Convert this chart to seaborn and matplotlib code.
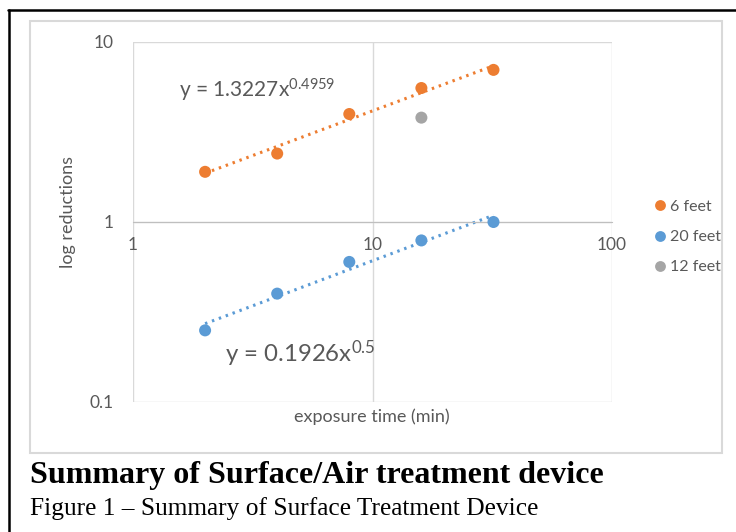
import numpy as np
import pandas as pd
import matplotlib
matplotlib.use("Agg")
import matplotlib.pyplot as plt
import seaborn as sns
from matplotlib.lines import Line2D
from matplotlib.patches import Rectangle

# Data
times = [2, 4, 8, 16, 32]
feet6 = [1.90, 2.40, 3.98, 5.55, 7.0]
feet20 = [0.25, 0.40, 0.60, 0.79, 1.0]
feet12_time = [16]
feet12 = [3.8]

# trendline coefficients (from the printed equations)
fit6 = (1.3227, 0.4959)
fit20 = (0.1926, 0.5)

df = pd.DataFrame({
    "time": times + times + feet12_time,
    "logred": feet6 + feet20 + feet12,
    "series": ["6 feet"] * 5 + ["20 feet"] * 5 + ["12 feet"],
})

colors = {"6 feet": "#ED7D31", "20 feet": "#5B9BD5", "12 feet": "#A5A5A5"}
txt = "#595959"

sns.set_style("white")
plt.rcParams["font.family"] = ["Lato", "DejaVu Sans"]
plt.rcParams["mathtext.fontset"] = "custom"
plt.rcParams["mathtext.rm"] = "Lato"
plt.rcParams["mathtext.it"] = "Lato"

fig = plt.figure(figsize=(7.36, 5.32), dpi=100)
W, H = 736, 532
ax = fig.add_axes([133 / W, 1 - 402 / H, (612 - 133) / W, (402 - 42) / H])

# trendlines
for (a, b), col in [(fit6, colors["6 feet"]), (fit20, colors["20 feet"])]:
    xs = np.geomspace(times[0], times[-1], 50)
    ax.plot(xs, a * xs ** b, color=col, lw=2.2, ls=(0, (0.8, 1.6)), zorder=2)

sns.scatterplot(data=df, x="time", y="logred", hue="series",
                hue_order=["6 feet", "20 feet", "12 feet"], palette=colors,
                s=75, edgecolor="none", ax=ax, zorder=3)

ax.set_xscale("log")
ax.set_yscale("log")
ax.set_xlim(1, 100)
ax.set_ylim(0.1, 10)
ax.set_xticks([1, 10, 100])
ax.set_xticklabels(["1", "10", "100"])
ax.set_yticks([0.1, 1, 10])
ax.set_yticklabels(["0.1", "1", "10"])
ax.minorticks_off()
ax.grid(True, color="#D9D9D9", lw=1)
for s in ["top", "right", "left"]:
    ax.spines[s].set_visible(False)
ax.spines["bottom"].set_position(("data", 1))
ax.spines["bottom"].set_color("#BFBFBF")
ax.tick_params(length=0, labelsize=12.5, labelcolor=txt, pad=11)
ax.tick_params(axis="y", pad=14)
ax.set_xlabel("")
ax.set_ylabel("")

fig.text(372 / W, 1 - 417 / H, "exposure time (min)", ha="center", va="center",
         fontsize=13, color=txt)
fig.text(68 / W, 1 - 212 / H, "log reductions", ha="center", va="center",
         rotation=90, fontsize=13, color=txt)

fig.text(179 / W, 1 - 98 / H, r"y = 1.3227$\mathrm{x}^{0.4959}$", fontsize=15,
         color=txt, va="baseline")
fig.text(225 / W, 1 - 362 / H, r"y = 0.1926$\mathrm{x}^{0.5}$", fontsize=17.3,
         color=txt, va="baseline")

ax.legend(loc="center left", bbox_to_anchor=(638 / W, 1 - 237 / H),
          bbox_transform=fig.transFigure, frameon=False, fontsize=11.5,
          labelcolor=txt, handletextpad=0.1, labelspacing=1.0,
          markerscale=0.9, handlelength=1.0)

# chart frame and page borders
fig.add_artist(Rectangle((30 / W, 1 - 453 / H), (722 - 30) / W, (453 - 21) / H,
                         transform=fig.transFigure, fill=False,
                         edgecolor="#D9D9D9", lw=1.5))
fig.add_artist(Line2D([9 / W, 9 / W], [0, 1 - 10 / H], transform=fig.transFigure,
                      color="black", lw=1.8))
fig.add_artist(Line2D([8 / W, 1], [1 - 10 / H, 1 - 10 / H], transform=fig.transFigure,
                      color="black", lw=1.8))

fig.text(30 / W, 1 - 483 / H, "Summary of Surface/Air treatment device",
         family="Liberation Serif", weight="bold", fontsize=23, va="baseline",
         color="black")
fig.text(30 / W, 1 - 515 / H, "Figure 1 \u2013 Summary of Surface Treatment Device",
         family="Liberation Serif", fontsize=18.3, va="baseline", color="black")

fig.savefig("out.png", dpi=100)
